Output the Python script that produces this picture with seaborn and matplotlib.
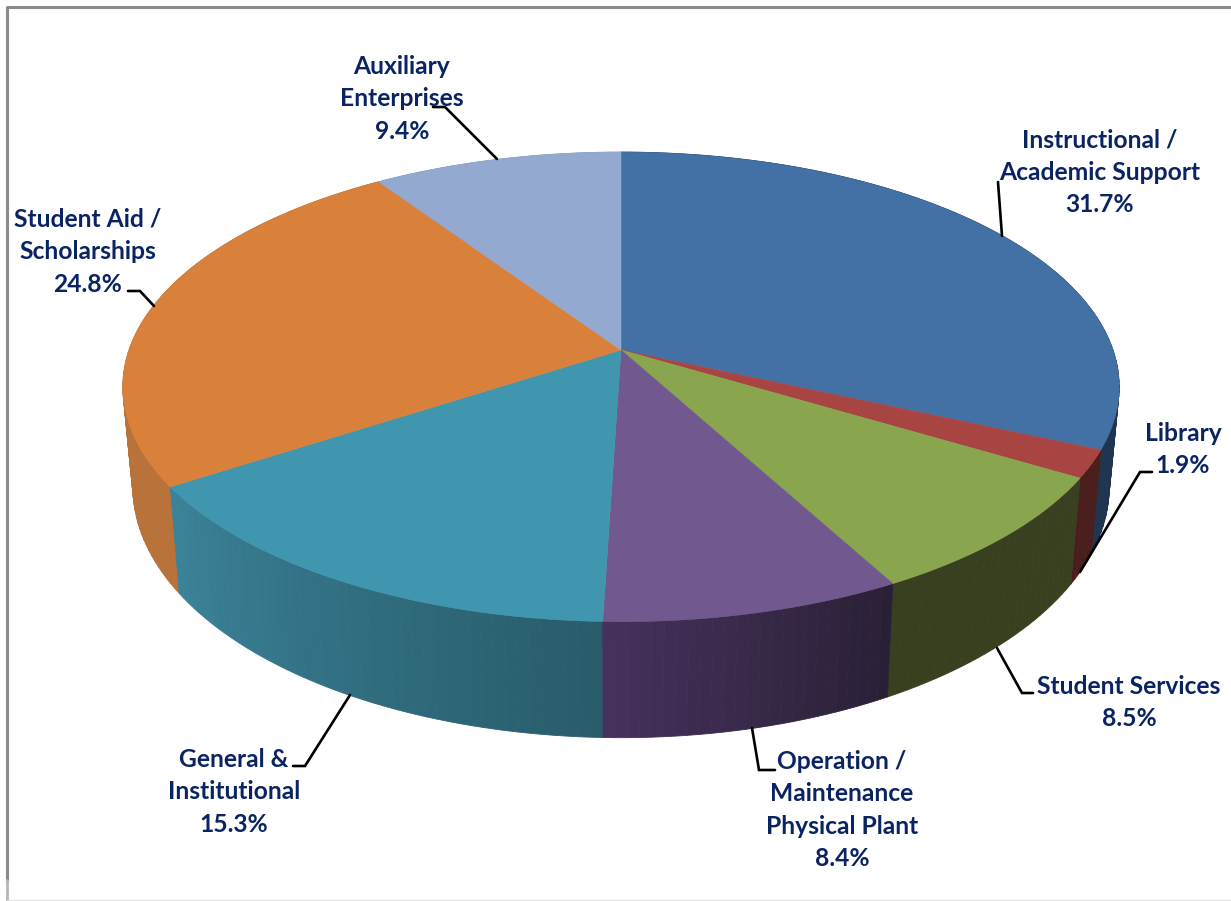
import numpy as np
import matplotlib
matplotlib.use("Agg")
import matplotlib.pyplot as plt
from matplotlib.colors import to_rgb
import seaborn as sns

# ---- data (clockwise from 12 o'clock) ----
categories = ["Instructional /\nAcademic Support", "Library", "Student Services",
              "Operation /\nMaintenance\nPhysical Plant", "General &\nInstitutional",
              "Student Aid /\nScholarships", "Auxiliary\nEnterprises"]
shares = [31.7, 1.9, 8.5, 8.4, 15.3, 24.8, 9.4]
top_colors = ["#4471A5", "#A84442", "#89A54E", "#71588F", "#4096AF", "#D9813B", "#93A9CF"]
side_start = ["#1E344F", "#4A1E1C", "#394020", "#2A2036", "#285C6B", "#B8723A", "#7F92B3"]
side_end = ["#1E344F", "#4A1E1C", "#394020", "#45315C", "#3B8298", "#B8723A", "#7F92B3"]
label_xy = [(1100, 171), (1183, 448.5), (1129, 701.5), (842, 809), (234, 790.5), (88, 250.5), (402, 97.5)]
leaders = [[(998, 182), (1002, 236)],
           [(1152, 472), (1140, 472), (1080, 572)],
           [(1033, 693), (1022, 693), (997, 648)],
           [(775, 770), (759, 770), (752, 728)],
           [(293, 766), (305, 766), (350, 695)],
           [(128, 291), (140, 291), (154, 306)],
           [(433, 107), (445, 107), (497, 159)]]

# ---- projection of the disc (pixel space of the figure) ----
CX, CY, RX, RY, K = 621.0, 350.0, 492.0, 229.0, 0.157
BOTTOM_CY, BOTTOM_SX, BOTTOM_SY = 447.0, 0.98, 1.07


def top_xy(share_pos):
    th = np.pi / 2 - 2 * np.pi * np.asarray(share_pos) / 100.0
    u, v = np.cos(th), np.sin(th)
    d = 1 + K * v
    return CX + RX * u / d, CY - RY * v / d


def bottom_xy(share_pos):
    x, y = top_xy(share_pos)
    return CX + (x - CX) * BOTTOM_SX, BOTTOM_CY + (y - CY) * BOTTOM_SY


sns.set_theme(style="white")
plt.rcParams["font.family"] = ["Lato", "DejaVu Sans"]

fig = plt.figure(figsize=(12.31, 9.01), dpi=100, facecolor="white")
ax = fig.add_axes([0, 0, 1, 1])
ax.set_xlim(0, 1231)
ax.set_ylim(901, 0)
ax.axis("off")

edges = np.concatenate([[0], np.cumsum(shares)])
edges = edges / edges[-1] * 100

# side walls: back wedges first, then toward the viewer
for i in [6, 5, 0, 1, 2, 4, 3]:
    a, b = edges[i], edges[i + 1]
    n = max(4, int((b - a) * 3))
    c0, c1 = np.array(to_rgb(side_start[i])), np.array(to_rgb(side_end[i]))
    steps = np.linspace(a, b, n + 1)
    for j in range(n):
        s = np.linspace(steps[j], steps[j + 1], 4)
        xt, yt = top_xy(s)
        xb, yb = bottom_xy(s)
        col = c0 + (c1 - c0) * j / max(1, n - 1)
        ax.fill(np.r_[xt, xb[::-1]], np.r_[yt, yb[::-1]], color=col, lw=0.6, zorder=2)

# top faces
for i in range(len(shares)):
    s = np.linspace(edges[i], edges[i + 1], 120)
    x, y = top_xy(s)
    ax.fill(np.r_[CX, x], np.r_[CY, y], color=top_colors[i], lw=0.4, zorder=3)

# leader lines
for pts in leaders:
    p = np.array(pts)
    ax.plot(p[:, 0], p[:, 1], color="black", lw=1.9, zorder=4, solid_joinstyle="miter")

# labels
for name, val, (lx, ly) in zip(categories, shares, label_xy):
    ax.text(lx, ly + 1.2, f"{name}\n{val:.1f}%", ha="center", va="center", color="#0A2463",
            fontsize=17.7, fontweight="bold", linespacing=1.5, zorder=5)

# chart frame
ax.plot([6.5, 6.5, 1231], [880, 6.5, 6.5], color="#8A8A8A", lw=2.2, zorder=1)
ax.plot([6.5, 6.5], [880, 901], color="#B5B5B5", lw=2.0, zorder=1)
ax.plot([6.5, 1231], [900, 900], color="#E3E3E3", lw=1.0, zorder=1)

fig.savefig("out.png", dpi=100)
